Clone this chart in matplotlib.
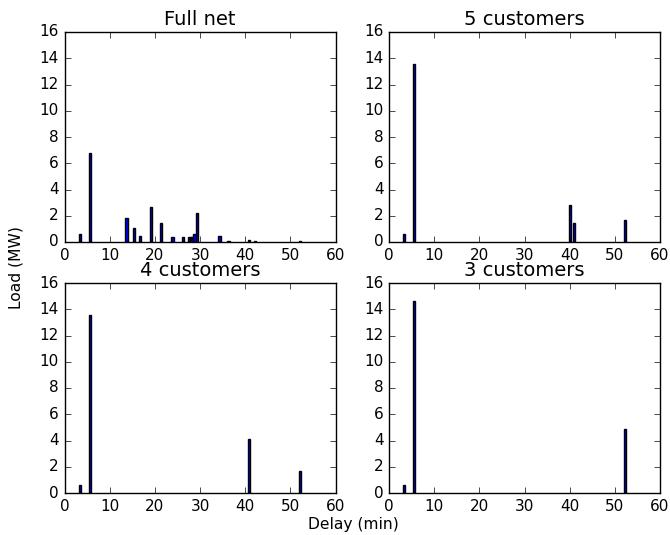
import matplotlib
matplotlib.use("Agg")
import matplotlib.pyplot as plt

plt.style.use('classic')
plt.rcParams['font.family'] = ['DejaVu Sans']

# Data (delay in minutes, load in MW)
full_delay = [3.4, 5.6, 13.7, 15.4, 16.7, 19.1, 21.3, 23.9, 26.2, 27.5, 28.0, 28.3, 28.8, 29.4, 34.3, 36.3, 40.8, 42.2, 52.2]
full_load = [0.6, 6.8, 1.8, 1.1, 0.45, 2.65, 1.45, 0.4, 0.4, 0.35, 0.35, 0.35, 0.6, 2.2, 0.45, 0.1, 0.15, 0.05, 0.1]

c5_delay = [3.3, 5.6, 40.1, 41.0, 52.2]
c5_load = [0.6, 13.6, 2.8, 1.45, 1.7]

c4_delay = [3.4, 5.6, 40.9, 52.2]
c4_load = [0.6, 13.6, 4.15, 1.7]

c3_delay = [3.3, 5.6, 52.2]
c3_load = [0.6, 14.6, 4.85]

titles = ["Full net", "5 customers", "4 customers", "3 customers"]
series = [(full_delay, full_load), (c5_delay, c5_load), (c4_delay, c4_load), (c3_delay, c3_load)]

fig = plt.figure(figsize=(6.7, 5.35), dpi=100)
fig.patch.set_facecolor('white')

W, H = 670.0, 535.0
lefts = [64.5, 389.0]
tops = [32.0, 283.0]
aw, ah = 271.0, 210.0

for i, (title, (d, l)) in enumerate(zip(titles, series)):
    r, c = divmod(i, 2)
    ax = fig.add_axes([lefts[c] / W, 1 - (tops[r] + ah) / H, aw / W, ah / H])
    ax.bar(d, l, width=0.5, color='b', edgecolor='k', linewidth=1, align='center')
    ax.set_xlim(0, 60)
    ax.set_ylim(0, 16)
    ax.set_xticks(range(0, 61, 10))
    ax.set_yticks(range(0, 17, 2))
    ax.tick_params(labelsize=11)
    ax.set_title(title, fontsize=14)

fig.text(16 / W, 1 - 268 / H, "Load (MW)", rotation=90, ha='center', va='center', fontsize=11.2)
fig.text(353 / W, 1 - 524 / H, "Delay (min)", ha='center', va='center', fontsize=11.2)

fig.savefig("out.png", dpi=100, facecolor='white')
